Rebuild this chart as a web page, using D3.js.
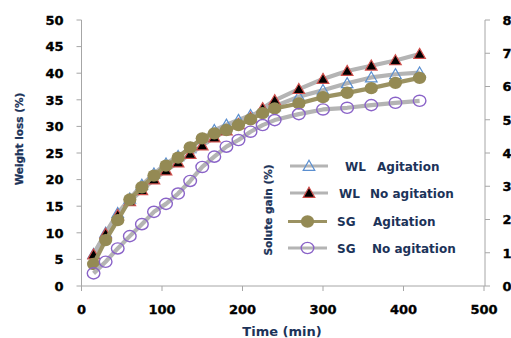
<!DOCTYPE html>
<html>
<head>
<meta charset="utf-8">
<script src="https://cdn.jsdelivr.net/npm/d3@7/dist/d3.min.js"></script>
<style>
  html, body { margin: 0; padding: 0; background: #fff; }
  svg { display: block; }
  text { font-family: "DejaVu Sans", sans-serif; font-weight: bold; }
  .tick-label { stroke: #000; stroke-width: 0.35px; }
</style>
</head>
<body>
<svg id="chart" width="511" height="338"></svg>
<script>
// Osmotic dehydration kinetics: weight loss (left axis) and solute gain (right axis)
const times = [15, 30, 45, 60, 75, 90, 105, 120, 135, 150, 165, 180, 195, 210, 225, 240, 270, 300, 330, 360, 390, 420];

const wlAgitation   = [6.0, 10.0, 13.7, 16.4, 19.0, 21.1, 23.0, 24.4, 25.9, 27.6, 29.3, 30.3, 31.2, 32.1, 32.8, 33.8, 35.6, 36.8, 38.1, 39.2, 39.8, 40.1];
const wlNoAgitation = [5.9, 9.8, 13.3, 15.9, 18.0, 20.0, 21.7, 23.2, 24.8, 26.4, 27.9, 29.2, 30.4, 31.6, 33.4, 34.9, 37.0, 38.9, 40.4, 41.4, 42.4, 43.6];
const sgAgitation   = [0.66, 1.38, 1.98, 2.60, 2.97, 3.32, 3.62, 3.86, 4.17, 4.44, 4.59, 4.69, 4.84, 5.01, 5.20, 5.34, 5.49, 5.68, 5.81, 5.95, 6.11, 6.26];
const sgNoAgitation = [0.38, 0.73, 1.13, 1.50, 1.86, 2.23, 2.47, 2.78, 3.16, 3.58, 3.89, 4.19, 4.39, 4.64, 4.84, 4.99, 5.17, 5.31, 5.36, 5.44, 5.51, 5.57];

const xTicks = [0, 100, 200, 300, 400, 500];
const leftTicks = [0, 5, 10, 15, 20, 25, 30, 35, 40, 45, 50];
const rightTicks = [0, 1, 2, 3, 4, 5, 6, 7, 8];

const legendCodes = ["WL", "WL", "SG", "SG"];
const legendNames = ["Agitation", "No agitation", "Agitation", "No agitation"];

const xTitle = "Time (min)";
const yLeftTitle = "Weight loss (%)";
const yRightTitle = "Solute gain (%)";

const svg = d3.select("#chart");
const axisColor = "#a6a6a6";
const titleColor = "#1c3359";

const x = d3.scaleLinear().domain([0, 500]).range([81.5, 484]);
const yL = d3.scaleLinear().domain([0, 50]).range([286, 20]);
const yR = d3.scaleLinear().domain([0, 8]).range([286, 20]);

// ---- axes ----
const axisG = svg.append("g");
// x axis
axisG.append("line").attr("x1", x(0)).attr("x2", x(500) + 1).attr("y1", 286).attr("y2", 286)
  .attr("stroke", axisColor).attr("stroke-width", 1);
axisG.selectAll(".xt").data(xTicks).join("line")
  .attr("x1", d => x(d)).attr("x2", d => x(d)).attr("y1", 286).attr("y2", 291)
  .attr("stroke", axisColor);
axisG.selectAll(".xl").data(xTicks).join("text").attr("class", "tick-label")
  .attr("x", d => x(d)).attr("y", 314).attr("text-anchor", "middle")
  .attr("font-size", 13).attr("fill", "#000").text(d => d);

// left axis
axisG.append("line").attr("x1", x(0)).attr("x2", x(0)).attr("y1", yL(50)).attr("y2", 286)
  .attr("stroke", axisColor);
axisG.selectAll(".lt").data(leftTicks).join("line")
  .attr("x1", x(0) - 5).attr("x2", x(0)).attr("y1", d => yL(d)).attr("y2", d => yL(d))
  .attr("stroke", axisColor);
axisG.selectAll(".ll").data(leftTicks).join("text").attr("class", "tick-label")
  .attr("x", 63.5).attr("y", d => yL(d) + 4.8).attr("text-anchor", "end")
  .attr("font-size", 13).attr("fill", "#000").text(d => d);

// right axis
const rx = 485;
axisG.append("line").attr("x1", rx).attr("x2", rx).attr("y1", yR(8)).attr("y2", 286)
  .attr("stroke", axisColor);
axisG.selectAll(".rt").data(rightTicks).join("line")
  .attr("x1", rx).attr("x2", rx + 5).attr("y1", d => yR(d)).attr("y2", d => yR(d))
  .attr("stroke", axisColor);
axisG.selectAll(".rl").data(rightTicks).join("text").attr("class", "tick-label")
  .attr("x", 502.5).attr("y", d => yR(d) + 4.8).attr("text-anchor", "start")
  .attr("font-size", 13).attr("fill", "#000").text(d => d);

// axis titles
svg.append("text").attr("x", 282).attr("y", 336).attr("text-anchor", "middle")
  .attr("font-size", 13).attr("fill", titleColor).text(xTitle);
svg.append("text").attr("transform", "translate(23,139) rotate(-90)").attr("text-anchor", "middle")
  .attr("font-size", 10.5).attr("fill", titleColor).attr("stroke", titleColor).attr("stroke-width", 0.25)
  .text(yLeftTitle);
svg.append("text").attr("transform", "translate(272,210) rotate(-90)").attr("text-anchor", "middle")
  .attr("font-size", 10.5).attr("fill", titleColor).attr("stroke", titleColor).attr("stroke-width", 0.25)
  .text(yRightTitle);

// ---- series ----
const triUp = d3.symbol().type(d3.symbolTriangle).size(58);

function drawMarker(g, kind, cx, cy) {
  if (kind === "triOpen") {
    g.append("path").attr("d", triUp()).attr("transform", `translate(${cx},${cy + 1})`)
      .attr("fill", "none").attr("stroke", "#5b8fd0").attr("stroke-width", 1.2);
  } else if (kind === "triFilled") {
    g.append("path").attr("d", triUp()).attr("transform", `translate(${cx},${cy + 1})`)
      .attr("fill", "#000").attr("stroke", "#d0504d").attr("stroke-width", 1.2);
  } else if (kind === "dotFilled") {
    g.append("ellipse").attr("cx", cx).attr("cy", cy).attr("rx", 6.6).attr("ry", 6.2)
      .attr("fill", "#948a54");
  } else if (kind === "dotOpen") {
    g.append("ellipse").attr("cx", cx).attr("cy", cy).attr("rx", 6.3).attr("ry", 5.6)
      .attr("fill", "none").attr("stroke", "#8a63c8").attr("stroke-width", 1.4);
  }
}

const series = [
  { values: wlAgitation,   y: yL, line: "#b4b4b4", marker: "triOpen" },
  { values: wlNoAgitation, y: yL, line: "#b4b4b4", marker: "triFilled" },
  { values: sgAgitation,   y: yR, line: "#9b9262", marker: "dotFilled" },
  { values: sgNoAgitation, y: yR, line: "#b4b4b4", marker: "dotOpen" }
];

series.forEach(s => {
  const g = svg.append("g");
  const pts = times.map((t, i) => [t, s.values[i]]);
  const line = d3.line().x(d => x(d[0])).y(d => s.y(d[1]));
  g.append("path").datum(pts).attr("d", line).attr("fill", "none")
    .attr("stroke", s.line).attr("stroke-width", 4.2).attr("stroke-linejoin", "round");
  pts.forEach(d => drawMarker(g, s.marker, x(d[0]), s.y(d[1])));
});

// ---- legend ----
const legRowsY = [166, 193, 221.5, 248];
const legLineX = [[290, 328], [290, 328], [288, 327], [288, 327]];
const legCodeX = [345, 339, 337, 337];
const legNameX = [377, 370, 373, 372];
const leg = svg.append("g");
series.forEach((s, i) => {
  const cy = legRowsY[i];
  leg.append("line").attr("x1", legLineX[i][0]).attr("x2", legLineX[i][1])
    .attr("y1", cy).attr("y2", cy).attr("stroke", s.line).attr("stroke-width", 3);
  drawMarker(leg, s.marker, (legLineX[i][0] + legLineX[i][1]) / 2, cy);
  leg.append("text").attr("x", legCodeX[i]).attr("y", cy + 4.5)
    .attr("font-size", 12).attr("fill", titleColor).text(legendCodes[i]);
  leg.append("text").attr("x", legNameX[i]).attr("y", cy + 4.5)
    .attr("font-size", 12).attr("fill", titleColor).text(legendNames[i]);
});
</script>
</body>
</html>
